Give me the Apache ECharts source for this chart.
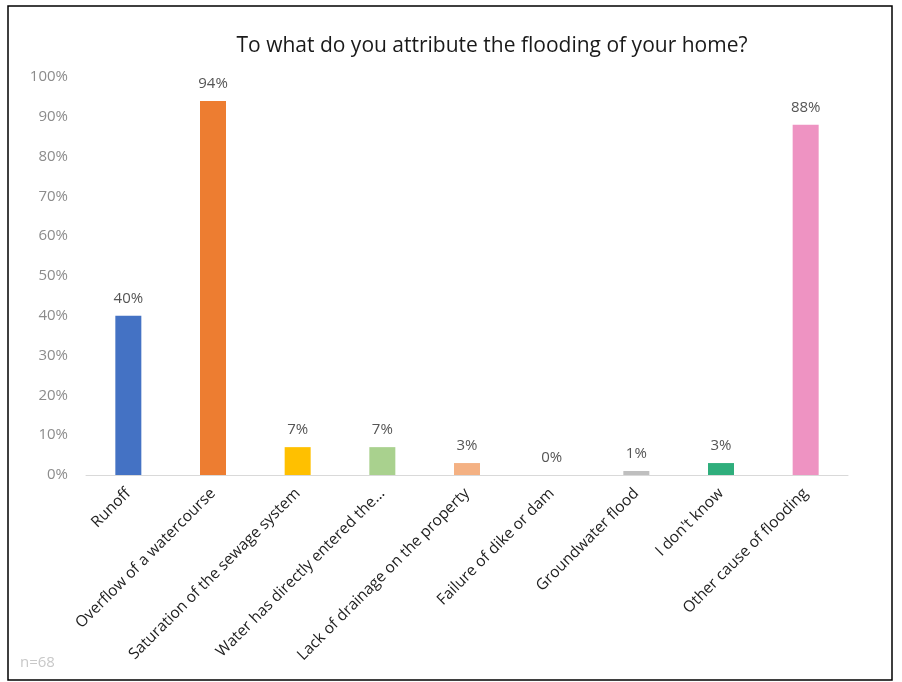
<!DOCTYPE html>
<html lang="en">
<head>
    <meta charset="UTF-8">
    <title>Flooding attribution</title>
    <script src="https://cdn.jsdelivr.net/npm/echarts@6/dist/echarts.min.js"></script>
    <style>
        body { margin: 0; background: #fff; }
    </style>
</head>
<body>
    <div id="main" style="width: 902px; height: 682px;"></div>
    <script>
        // answers and share of respondents (%)
        const categories = [
            "Runoff",
            "Overflow of a watercourse",
            "Saturation of the sewage system",
            "Water has directly entered the...",
            "Lack of drainage on the property",
            "Failure of dike or dam",
            "Groundwater flood",
            "I don't know",
            "Other cause of flooding"
        ];
        const values = [40, 94, 7, 7, 3, 0, 1, 3, 88];
        const barColors = ["#4472C4", "#ED7D31", "#FFC000", "#A9D18E", "#F4B183",
            "#9E480E", "#BFBFBF", "#2FAE7C", "#EE93C2"];

        const chart = echarts.init(document.getElementById("main"));
        const option = {
            backgroundColor: "#fff",
            animation: false,
            title: {
                text: "To what do you attribute the flooding of your home?",
                left: 487,
                textAlign: "center",
                top: 31,
                textStyle: { fontFamily: "Open Sans", fontSize: 21, fontWeight: "normal", color: "#1a1a1a" }
            },
            grid: { left: 86, right: 54, top: 77, bottom: 207 },
            xAxis: {
                type: "category",
                data: categories,
                axisLine: { lineStyle: { color: "#d9d9d9" } },
                axisTick: { show: false },
                axisLabel: {
                    interval: 0,
                    rotate: 45,
                    margin: 16,
                    fontFamily: "Open Sans",
                    fontSize: 15.5,
                    color: "#222"
                }
            },
            yAxis: {
                type: "value",
                min: 0,
                max: 100,
                interval: 10,
                splitLine: { show: false },
                axisLine: { show: false },
                axisLabel: {
                    formatter: "{value}%",
                    margin: 18,
                    fontFamily: "Open Sans",
                    fontSize: 15,
                    color: "#8c8c8c"
                }
            },
            series: [{
                type: "bar",
                barWidth: 26,
                data: values.map((v, i) => ({ value: v, itemStyle: { color: barColors[i] } })),
                label: {
                    show: true,
                    position: "top",
                    distance: 10,
                    formatter: "{c}%",
                    fontFamily: "Open Sans",
                    fontSize: 15,
                    color: "#555"
                }
            }],
            graphic: [
                {
                    type: "rect",
                    shape: { x: 8, y: 6, width: 884, height: 674 },
                    style: { fill: "none", stroke: "#000", lineWidth: 1.5 }
                },
                {
                    type: "text",
                    left: 20,
                    top: 655,
                    style: { text: "n=68", fontFamily: "Open Sans", fontSize: 15, fill: "#c8c8c8" }
                }
            ]
        };
        chart.setOption(option);
    </script>
</body>
</html>
